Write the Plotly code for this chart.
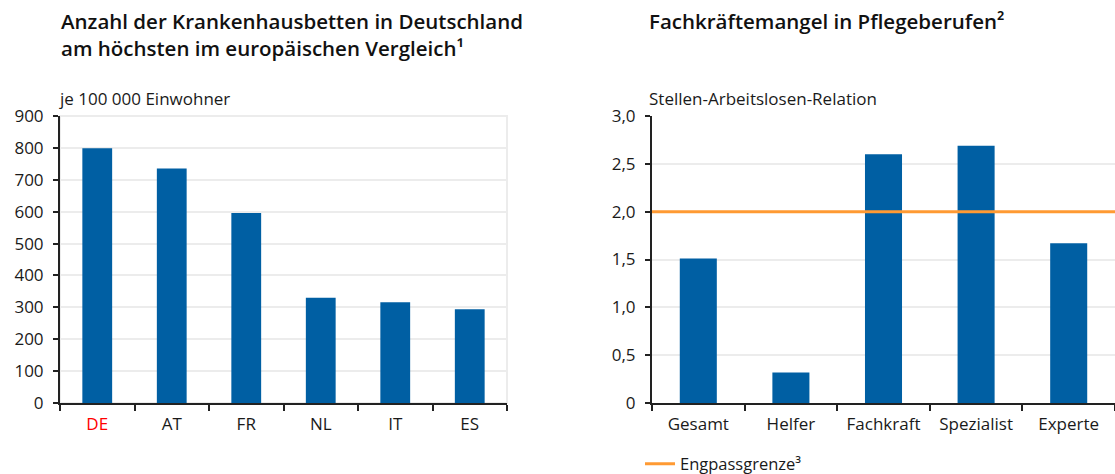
import plotly.graph_objects as go

# Left chart: hospital beds per 100 000 inhabitants
countries = ["DE", "AT", "FR", "NL", "IT", "ES"]
beds = [799, 735, 596, 330, 316, 294]

# Right chart: job-to-unemployed ratio in care professions
levels = ["Gesamt", "Helfer", "Fachkraft", "Spezialist", "Experte"]
ratio = [1.51, 0.32, 2.60, 2.69, 1.67]
threshold = 2.0
threshold_name = "Engpassgrenze³"

left_ticks = [0, 100, 200, 300, 400, 500, 600, 700, 800, 900]
right_ticks = [0, 0.5, 1.0, 1.5, 2.0, 2.5, 3.0]
right_ticktext = ["0", "0,5", "1,0", "1,5", "2,0", "2,5", "3,0"]

BLUE = "#005FA3"
ORANGE = "#FF9A33"
GRID = "#ECECEC"
FONT = "Open Sans"
TXT = "#1a1a1a"
W, H = 1115, 474
TICK_SIZE = 17
TITLE_SIZE = 20.5

def px_x(p):
    return p / W

def px_y(p):
    return 1 - p / H

fig = go.Figure()

country_labels = [
    "<span style='color:#FF0000'>DE</span>" if c == "DE" else c for c in countries
]

fig.add_trace(go.Bar(x=countries, y=beds, marker=dict(color=BLUE, line=dict(width=0)),
                     xaxis="x", yaxis="y", showlegend=False, hoverinfo="skip"))
fig.add_trace(go.Bar(x=levels, y=ratio, marker=dict(color=BLUE, line=dict(width=0)),
                     xaxis="x2", yaxis="y2", showlegend=False, hoverinfo="skip"))
fig.add_trace(go.Scatter(x=[None], y=[None], mode="lines", name=threshold_name,
                         line=dict(color=ORANGE, width=3), xaxis="x2", yaxis="y2",
                         showlegend=True))

ydom = [px_y(403), px_y(116)]
common_x = dict(type="category", showline=True, linecolor="#222222", linewidth=2,
                ticks="outside", ticklen=6, tickwidth=1.5, tickcolor="#222222",
                tickson="boundaries", showgrid=False, zeroline=False,
                tickfont=dict(family=FONT, size=TICK_SIZE, color=TXT), fixedrange=True)
common_y = dict(showline=True, linecolor="#222222", linewidth=2,
                ticks="outside", ticklen=5, tickwidth=1.5, tickcolor="#222222",
                showgrid=True, gridcolor=GRID, gridwidth=2, zeroline=False,
                tickfont=dict(family=FONT, size=TICK_SIZE, color=TXT),
                ticklabelstandoff=6, domain=ydom, fixedrange=True)

title_font = dict(family=FONT, size=TITLE_SIZE, color="#111111", weight=600)
sub_font = dict(family=FONT, size=TICK_SIZE, color=TXT)

fig.update_layout(
    width=W, height=H,
    margin=dict(l=0, r=0, t=0, b=0, autoexpand=False),
    paper_bgcolor="white", plot_bgcolor="white",
    bargap=0.6,
    font=dict(family=FONT, color=TXT),
    xaxis=dict(common_x, domain=[px_x(60), px_x(507)], anchor="y",
               tickvals=countries, ticktext=country_labels, ticklabelstandoff=5),
    yaxis=dict(common_y, anchor="x", range=[0, 900], tickvals=left_ticks),
    xaxis2=dict(common_x, domain=[px_x(652), 1.0], anchor="y2", ticklabelstandoff=5),
    yaxis2=dict(common_y, anchor="x2", range=[0, 3.0], tickvals=right_ticks,
                ticktext=right_ticktext),
    legend=dict(x=px_x(640), y=px_y(464), yanchor="middle", xanchor="left",
                font=dict(family=FONT, size=16.5, color=TXT), bgcolor="rgba(0,0,0,0)",
                itemwidth=30, tracegroupgap=0),
    shapes=[
        dict(type="rect", xref="x domain", yref="y domain", x0=0, x1=1, y0=0, y1=1,
             line=dict(color=GRID, width=2), layer="below"),
        dict(type="line", xref="x2 domain", yref="y2", x0=0, x1=1,
             y0=threshold, y1=threshold, line=dict(color=ORANGE, width=3), layer="above"),
    ],
    annotations=[
        dict(text="Anzahl der Krankenhausbetten in Deutschland<br>am höchsten im europäischen Vergleich¹",
             xref="paper", yref="paper", x=px_x(59), y=px_y(35), xanchor="left",
             yanchor="middle", align="left", showarrow=False, font=title_font),
        dict(text="Fachkräftemangel in Pflegeberufen²",
             xref="paper", yref="paper", x=px_x(647), y=px_y(21), xanchor="left",
             yanchor="middle", align="left", showarrow=False, font=title_font),
        dict(text="je 100 000 Einwohner", xref="paper", yref="paper",
             x=px_x(57), y=px_y(98), xanchor="left", yanchor="middle", showarrow=False,
             font=sub_font),
        dict(text="Stellen-Arbeitslosen-Relation", xref="paper", yref="paper",
             x=px_x(647), y=px_y(98), xanchor="left", yanchor="middle", showarrow=False,
             font=sub_font),
    ],
)

fig.write_html("out.html", config={"displayModeBar": False},
               post_script="document.body.style.margin='0';")
